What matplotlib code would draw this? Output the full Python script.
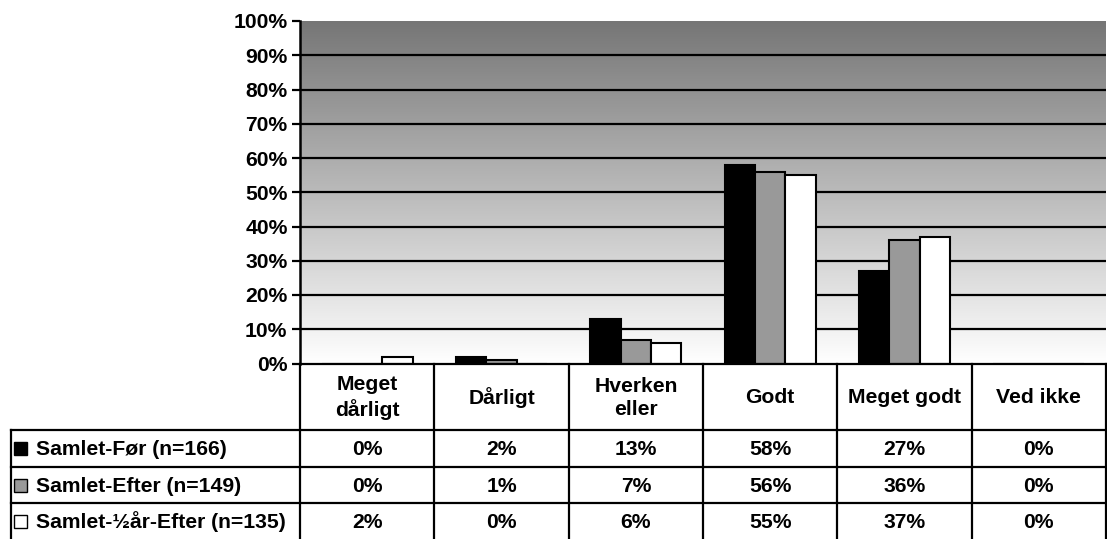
import numpy as np
import matplotlib
matplotlib.use('Agg')
import matplotlib.pyplot as plt
from matplotlib.colors import LinearSegmentedColormap
from matplotlib.patches import Rectangle

plt.rcParams['font.family'] = ['Liberation Sans', 'DejaVu Sans']
plt.rcParams['font.weight'] = 'bold'

categories = ['Meget\ndårligt', 'Dårligt', 'Hverken\neller', 'Godt', 'Meget godt', 'Ved ikke']
series = ['Samlet-Før (n=166)', 'Samlet-Efter (n=149)', 'Samlet-½år-Efter (n=135)']
foer = [0, 2, 13, 58, 27, 0]
efter = [0, 1, 7, 56, 36, 0]
halvaar = [2, 0, 6, 55, 37, 0]
values = [foer, efter, halvaar]
colors = ['#000000', '#999999', '#ffffff']

W, H = 1107, 539
FS = 15.2
fig = plt.figure(figsize=(W / 100, H / 100), dpi=100)

# chart area in pixels
left, right, top, bottom = 300, 1106, 21, 363.5
ax = fig.add_axes([left / W, 1 - bottom / H, (right - left) / W, (bottom - top) / H])

n = len(categories)
x = np.arange(n)
ax.set_xlim(-0.5, n - 0.5)
ax.set_ylim(0, 100)

cmap = LinearSegmentedColormap.from_list('bg', ['#ffffff', '#767676'])
grad = np.linspace(0, 1, 256).reshape(-1, 1)
ax.imshow(grad, extent=(-0.5, n - 0.5, 0, 100), origin='lower', aspect='auto', cmap=cmap, zorder=0)

for y in range(10, 100, 10):
    ax.axhline(y, color='black', lw=1.6, zorder=1)

bw = 0.225
for i, (vals, c) in enumerate(zip(values, colors)):
    ax.bar(x + (i - 1) * bw, vals, width=bw, color=c, edgecolor='black', linewidth=1.5, zorder=2)

ax.set_yticks(range(0, 101, 10))
ax.set_yticklabels([f'{v}%' for v in range(0, 101, 10)], fontsize=FS, fontweight='bold')
ax.set_xticks([])
ax.tick_params(axis='y', direction='out', length=6, width=1.6, pad=3)
for s in ['top', 'right', 'bottom']:
    ax.spines[s].set_visible(False)
ax.spines['left'].set_linewidth(1.8)

# data table under the chart
tb = fig.add_axes([0, 0, 1, 1])
tb.set_xlim(0, W)
tb.set_ylim(H, 0)
tb.axis('off')

colw = (right - left) / n
edges = [left + i * colw for i in range(n + 1)]
rows = [bottom, 430, 467, 503, 539]
tl = 11
lw = 1.6

tb.plot([left, right], [bottom, bottom], color='black', lw=lw)
for xe in edges:
    tb.plot([xe, xe], [bottom, H], color='black', lw=lw)
for ry in rows[1:-1]:
    tb.plot([tl, right], [ry, ry], color='black', lw=lw)
tb.plot([tl, tl], [rows[1], H], color='black', lw=lw)

for j, cat in enumerate(categories):
    tb.text((edges[j] + edges[j + 1]) / 2, (rows[0] + rows[1]) / 2 + 1, cat,
            ha='center', va='center', fontsize=FS, fontweight='bold', linespacing=1.3)

for i, (name, vals, c) in enumerate(zip(series, values, colors)):
    yc = (rows[i + 1] + rows[i + 2]) / 2
    tb.add_patch(Rectangle((tl + 3, yc - 6.5), 13, 13, facecolor=c, edgecolor='black', lw=1))
    tb.text(tl + 25, yc + 1, name, ha='left', va='center', fontsize=FS, fontweight='bold')
    for j, v in enumerate(vals):
        tb.text((edges[j] + edges[j + 1]) / 2, yc + 1, f'{v}%',
                ha='center', va='center', fontsize=FS, fontweight='bold')

fig.savefig('out.png', dpi=100)
